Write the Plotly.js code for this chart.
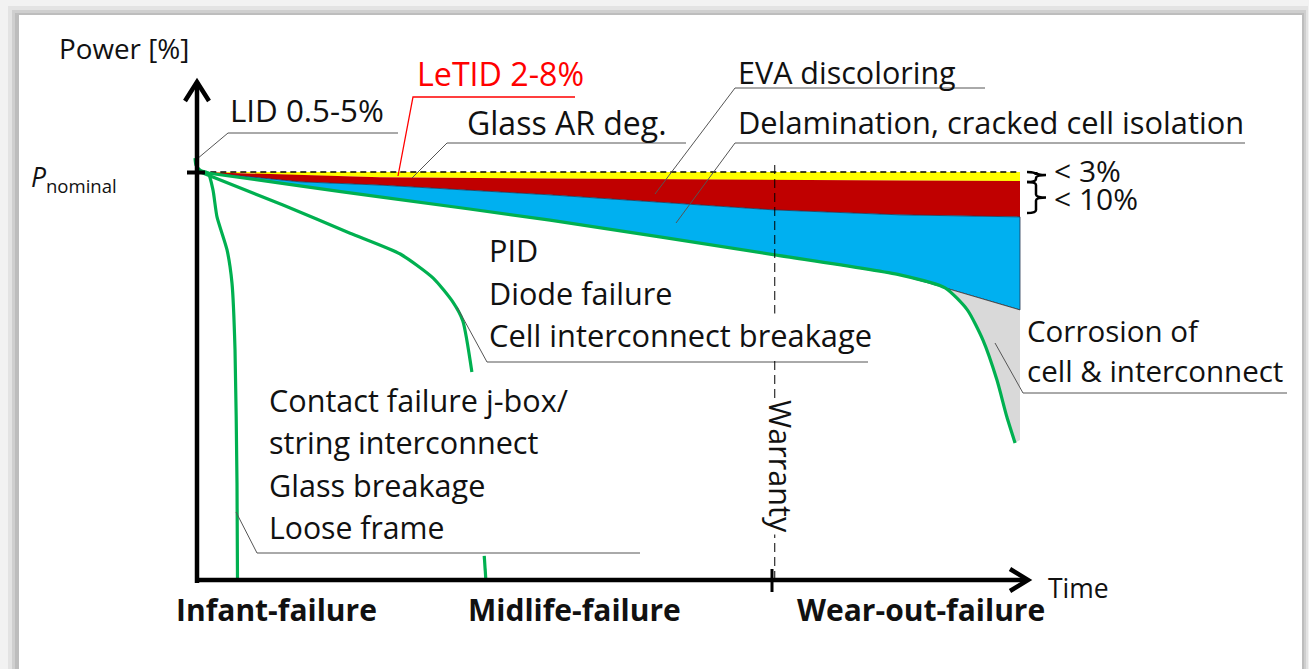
<!DOCTYPE html>
<html>
<head>
<meta charset="utf-8">
<script src="https://cdn.plot.ly/plotly-3.0.1.min.js"></script>
<style>html,body{margin:0;padding:0;background:#fff;}#chart{width:1309px;height:669px;}</style>
</head>
<body>
<div id="chart"></div>
<script>
// ---------- DATA (time in arbitrary units 0..100, power in % of P_nominal) ----------
const bandTime    = [0.4, 12.5, 22.2, 42.9, 70.2, 85.4, 100];
const nominalTop  = [100, 100, 100, 100, 100, 100, 100];
const yellowLower = [100, 99.2, 98.7, 98.4, 98.0, 97.9, 97.8];
const redLower    = [100, 97.6, 96.8, 94.4, 90.7, 89.5, 89.0];

const wearTime  = [0.4, 12.5, 22.2, 42.9, 70.2, 85.4, 90.9, 93.6, 95.5, 97.2, 98.4, 99.4];
const wearPower = [100, 96.6, 93.9, 88.2, 79.7, 74.8, 71.6, 66.2, 58.8, 49.0, 40.0, 33.6];
const blueSplitIndex = 6;          // wear-out curve leaves the blue area here
const moduleEndTime = 100;
const blueEndPower = 66.2;
const grayEndPower = 34.3;

const infantTime  = [0.4, 1.34, 1.94, 2.43, 3.65, 4.25, 4.62, 4.86, 4.92];
const infantPower = [100, 99.75, 95.6, 89.0, 80.9, 72.8, 56.4, 23.8, 0];

const midTime  = [0.4, 10.45, 18.6, 24.7, 28.7, 31.1, 32.3, 33.4, null, 34.9, 35.1];
const midPower = [100, 91.9, 85.0, 79.9, 74.0, 68.1, 63.5, 51.0, null, 5.9, 0];

const lidTime  = [-0.24, -0.12, 0.36, 1.22];
const lidPower = [103.4, 101.7, 100.5, 99.85];

const warrantyTime = 70.2;
const phaseLabels = ['Infant-failure', 'Midlife-failure', 'Wear-out-failure'];
const phaseTime   = [9.66, 45.87, 87.97];

// ---------- helpers: picture pixels -> data units (for layout decoration) ----------
const X = px => (px - 197) / 8.23;
const Y = py => (580 - py) / 4.08;

const FONT = '"Open Sans", Lato, sans-serif';
const GREEN = '#00b050';

function poly(xTop, yTop, xBot, yBot) {
  return {x: xTop.concat(xBot.slice().reverse()), y: yTop.concat(yBot.slice().reverse())};
}

const traces = [];
const yb = poly(bandTime, nominalTop, bandTime, yellowLower);
traces.push({x: yb.x, y: yb.y, mode: 'lines', fill: 'toself', fillcolor: '#ffff00', line: {width: 0}, hoverinfo: 'skip'});
const rb = poly(bandTime, yellowLower, bandTime, redLower);
traces.push({x: rb.x, y: rb.y, mode: 'lines', fill: 'toself', fillcolor: '#c00000', line: {width: 0}, hoverinfo: 'skip'});
const blueBotT = wearTime.slice(0, blueSplitIndex + 1).concat([moduleEndTime]);
const blueBotP = wearPower.slice(0, blueSplitIndex + 1).concat([blueEndPower]);
const bb = poly(bandTime, redLower, blueBotT, blueBotP);
traces.push({x: bb.x, y: bb.y, mode: 'lines', fill: 'toself', fillcolor: '#00b0f0', line: {width: 0.8, color: '#1f3350'}, hoverinfo: 'skip'});
const gT = [wearTime[blueSplitIndex], moduleEndTime, moduleEndTime].concat(wearTime.slice(blueSplitIndex).reverse());
const gP = [wearPower[blueSplitIndex], blueEndPower, grayEndPower].concat(wearPower.slice(blueSplitIndex).reverse());
traces.push({x: gT, y: gP, mode: 'lines', fill: 'toself', fillcolor: '#d9d9d9', line: {width: 0}, hoverinfo: 'skip'});
traces.push({x: [wearTime[blueSplitIndex], moduleEndTime], y: [wearPower[blueSplitIndex], blueEndPower], mode: 'lines', line: {color: '#333', width: 0.8}, hoverinfo: 'skip'});
traces.push({x: [bandTime[0], moduleEndTime], y: [100, 100], mode: 'lines', line: {color: '#000', width: 1.3, dash: '6px,4px'}, hoverinfo: 'skip'});
const gl = {color: GREEN, width: 3.2, shape: 'spline', smoothing: 0.6};
traces.push({x: wearTime, y: wearPower, mode: 'lines', line: gl, hoverinfo: 'skip'});
traces.push({x: infantTime, y: infantPower, mode: 'lines', line: gl, hoverinfo: 'skip'});
traces.push({x: midTime, y: midPower, mode: 'lines', line: gl, connectgaps: false, hoverinfo: 'skip'});
traces.push({x: lidTime, y: lidPower, mode: 'lines', line: gl, hoverinfo: 'skip'});

// ---------- shapes ----------
const shapes = [];
function rect(x0, y0, x1, y1, color) {
  shapes.push({type: 'rect', xref: 'x', yref: 'y', x0: X(x0), x1: X(x1), y0: Y(y0), y1: Y(y1), fillcolor: color, line: {width: 0}, layer: 'below'});
}
rect(0, 0, 1309, 669, '#f2f2f2');
rect(8, 6, 1308, 669, '#e3e3e3');
rect(12, 10, 1306, 669, '#cfcfcf');
rect(15, 13, 1304, 669, '#bdbdbd');
rect(19, 15, 1302, 669, '#ffffff');

function path(pts, color, width, dash, layer) {
  let d = 'M ' + pts.map(p => X(p[0]) + ',' + Y(p[1])).join(' L ');
  shapes.push({type: 'path', xref: 'x', yref: 'y', path: d, line: {color: color, width: width, dash: dash || 'solid'}, layer: layer || 'above'});
}
const LEAD = '#555555';
path([[197, 159], [228, 133], [398, 133]], LEAD, 1);
path([[398, 176], [413, 97], [575, 97]], '#ff0000', 1.3);
path([[412, 178], [447, 143], [686, 143]], LEAD, 1);
path([[655, 194], [735, 88], [985, 88]], LEAD, 1);
path([[676, 223], [735, 143], [1245, 143]], LEAD, 1);
path([[457, 307], [487, 362], [868, 362]], LEAD, 1);
path([[236, 512], [257, 553], [640, 553]], LEAD, 1);
path([[995, 343], [1023, 393], [1287, 393]], LEAD, 1);
shapes.push({type: 'line', xref: 'x', yref: 'y', x0: warrantyTime, x1: warrantyTime, y0: Y(165), y1: 0, line: {color: '#000', width: 1, dash: '9px,5px'}, layer: 'above'});
// axes
path([[197, 583], [197, 82]], '#000', 4.5);
path([[185, 101], [197, 82], [209, 101]], '#000', 4.5);
path([[195, 580], [1027, 580]], '#000', 4.5);
path([[1010, 569], [1028, 580], [1010, 591]], '#000', 4.5);
// ticks
path([[187, 172.5], [205, 172.5]], '#000', 4);
path([[772, 569], [772, 592]], '#000', 3);
// braces
function brace(x0, y0, y1, tip) {
  const xm = x0 + 9, ym = (y0 + y1) / 2 + (tip || 0);
  const r = 3;
  const P = (a, b) => X(a) + ',' + Y(b);
  const d = 'M ' + P(x0, y0) + ' Q ' + P(xm, y0) + ' ' + P(xm, y0 + r) +
            ' L ' + P(xm, ym - r) + ' Q ' + P(xm, ym) + ' ' + P(xm + 10, ym) +
            ' Q ' + P(xm, ym) + ' ' + P(xm, ym + r) +
            ' L ' + P(xm, y1 - r) + ' Q ' + P(xm, y1) + ' ' + P(x0, y1);
  shapes.push({type: 'path', xref: 'x', yref: 'y', path: d, line: {color: '#000', width: 2.5}, layer: 'above'});
}
brace(1027, 172, 182, -2);
brace(1027, 182, 213, 0);

// ---------- annotations ----------
const annotations = [];
function txt(text, left, cy, size, opts) {
  opts = opts || {};
  annotations.push(Object.assign({
    text: text, x: X(left), y: Y(cy), xref: 'x', yref: 'y', xanchor: 'left', yanchor: 'middle',
    showarrow: false, font: {family: FONT, size: size, color: opts.color || '#111'},
    borderpad: 0
  }, opts.extra || {}));
}
const S = 30.6;
const WB = {bgcolor: '#ffffff'};
txt('Power [%]', 58, 48, 27.8);
txt('LeTID 2-8%', 416, 73, 32.2, {color: '#ff0000'});
txt('EVA discoloring', 737, 72, 30.5);
txt('LID 0.5-5%', 229, 110, 31.3);
txt('Glass AR deg.', 466, 122, 32);
txt('Delamination, cracked cell isolation', 737, 122, 30.8);
txt('PID', 488, 250, S);
txt('Diode failure', 488, 293, S);
txt('Cell interconnect breakage', 488, 335, 30.8, {extra: WB});
txt('Contact failure j-box/', 268, 400, S, {extra: WB});
txt('string interconnect', 268, 442, S, {extra: WB});
txt('Glass breakage', 268, 485, S, {extra: WB});
txt('Loose frame', 268, 527, 30.2);
txt('Corrosion of', 1026, 330, 29.5);
txt('cell &amp; interconnect', 1026, 370, 29.5);
txt('&lt; 3%', 1053, 170, 30, {extra: {height: 24, valign: 'middle'}});
txt('&lt; 10%', 1053, 198, 30, {extra: {height: 24, valign: 'middle'}});
txt('Time', 1047, 588, 26.5);
txt('<i>P</i><sub>nominal</sub>', 30, 178, 26.5);
annotations.push({text: 'Warranty', x: X(781), y: Y(466), xref: 'x', yref: 'y', xanchor: 'center', yanchor: 'middle',
  textangle: 90, showarrow: false, bgcolor: '#ffffff', borderpad: 1, font: {family: FONT, size: S, color: '#111'}});
phaseLabels.forEach((lab, i) => {
  annotations.push({text: '<b>' + lab + '</b>', x: phaseTime[i], y: Y(609), xref: 'x', yref: 'y',
    xanchor: 'center', yanchor: 'middle', showarrow: false,
    font: {family: FONT, size: 30, color: '#111'}});
});

const layout = {
  width: 1309, height: 669,
  margin: {l: 0, r: 0, t: 0, b: 0, pad: 0},
  paper_bgcolor: '#ffffff', plot_bgcolor: 'rgba(0,0,0,0)',
  showlegend: false,
  xaxis: {range: [X(0), X(1309)], visible: false, fixedrange: true},
  yaxis: {range: [Y(669), Y(0)], visible: false, fixedrange: true},
  shapes: shapes,
  annotations: annotations
};
Plotly.newPlot('chart', traces, layout, {displayModeBar: false, staticPlot: true});
</script>
</body>
</html>
